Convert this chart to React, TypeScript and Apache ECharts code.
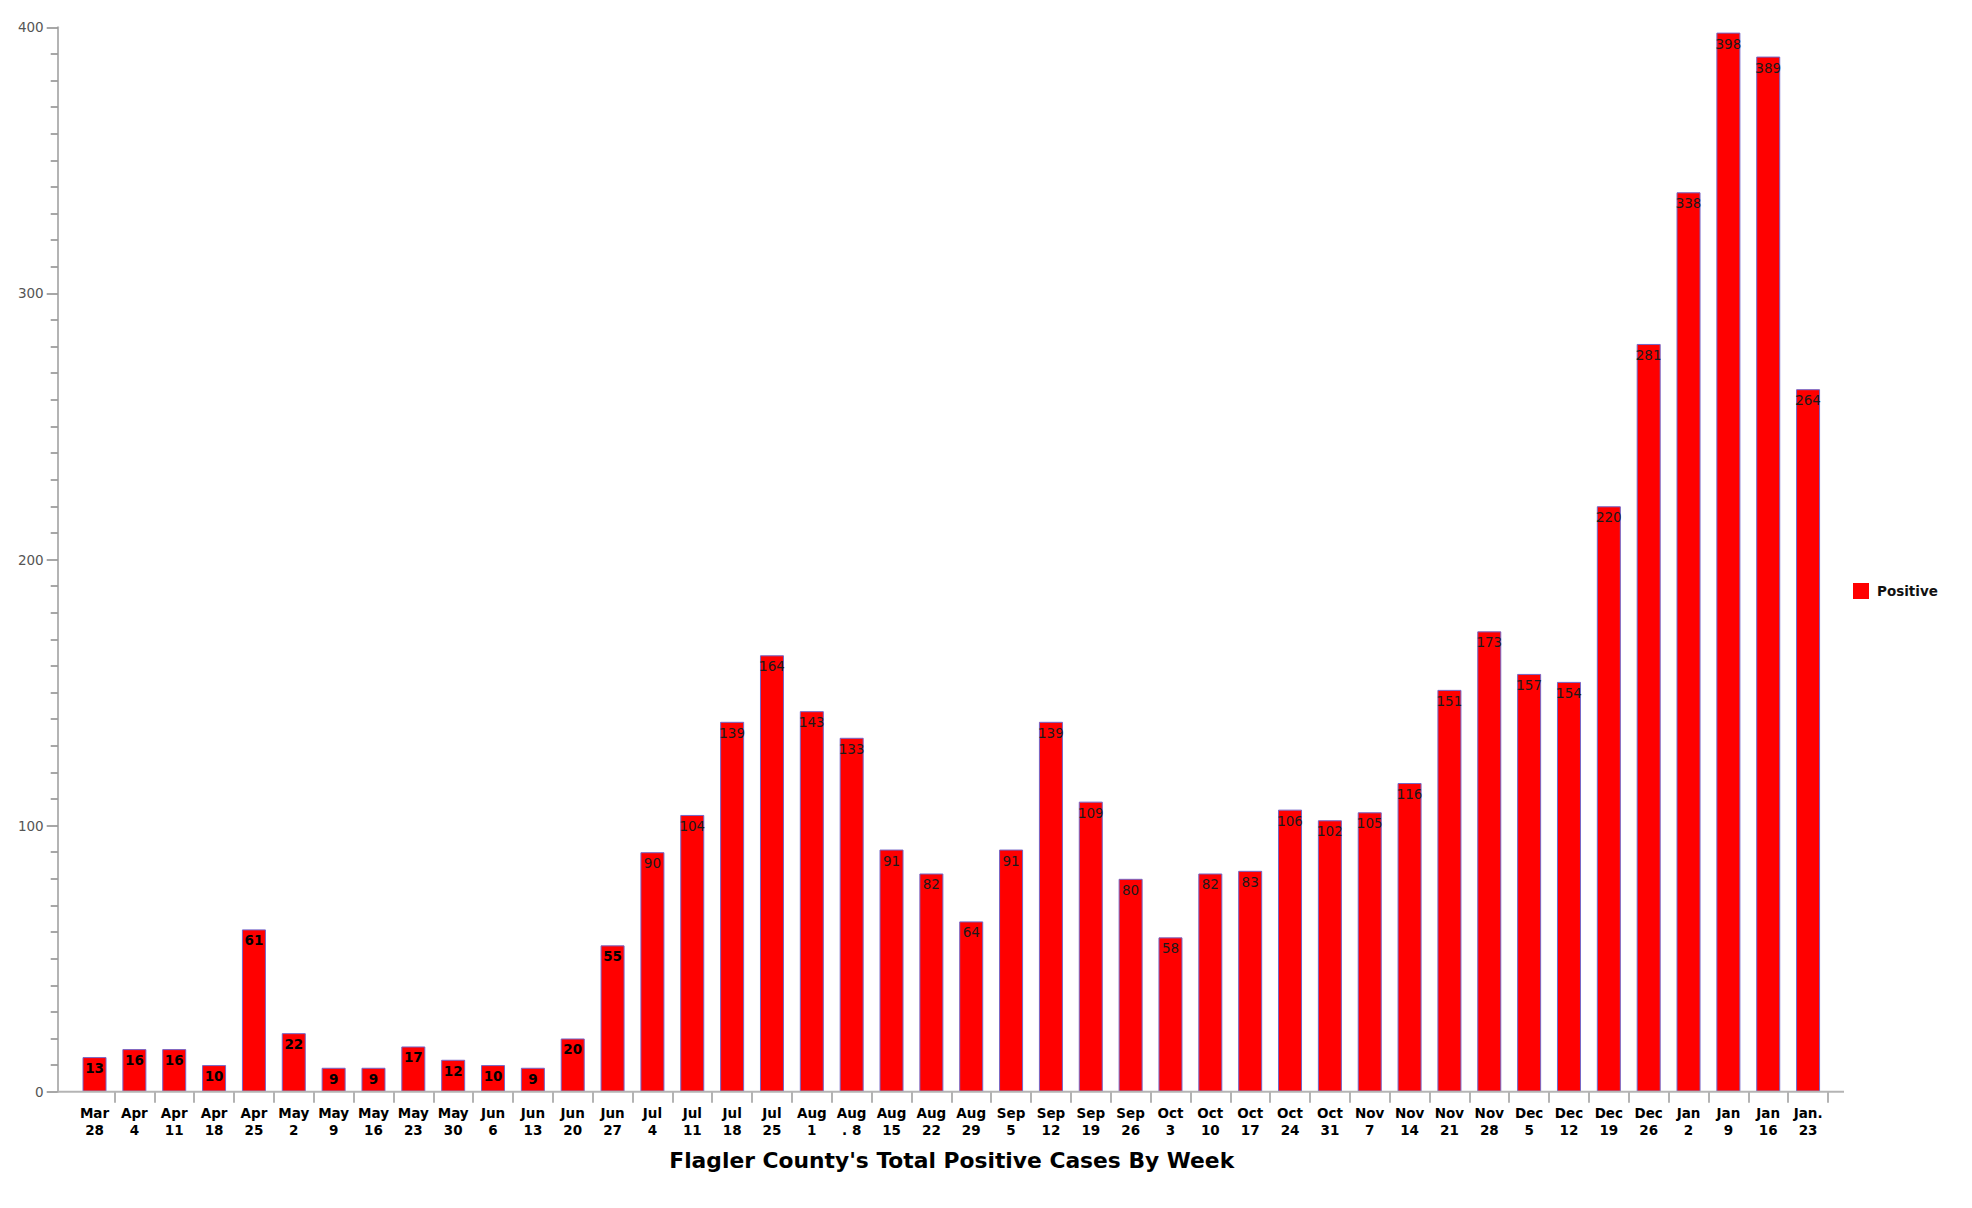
import React, { useEffect, useRef } from "react";
import * as echarts from "echarts";

const categories: string[] = [
  "Mar\n28", "Apr\n4", "Apr\n11", "Apr\n18", "Apr\n25", "May\n2", "May\n9", "May\n16", "May\n23", "May\n30",
  "Jun\n6", "Jun\n13", "Jun\n20", "Jun\n27", "Jul\n4", "Jul\n11", "Jul\n18", "Jul\n25", "Aug\n1", "Aug\n. 8",
  "Aug\n15", "Aug\n22", "Aug\n29", "Sep\n5", "Sep\n12", "Sep\n19", "Sep\n26", "Oct\n3", "Oct\n10", "Oct\n17",
  "Oct\n24", "Oct\n31", "Nov\n7", "Nov\n14", "Nov\n21", "Nov\n28", "Dec\n5", "Dec\n12", "Dec\n19", "Dec\n26",
  "Jan\n2", "Jan\n9", "Jan\n16", "Jan.\n23",
];

const positives: number[] = [
  13, 16, 16, 10, 61, 22, 9, 9, 17, 12,
  10, 9, 20, 55, 90, 104, 139, 164, 143, 133,
  91, 82, 64, 91, 139, 109, 80, 58, 82, 83,
  106, 102, 105, 116, 151, 173, 157, 154, 220, 281,
  338, 398, 389, 264,
];

const seriesName = "Positive";
const chartTitle = "Flagler County's Total Positive Cases By Week";
const yMin = 0;
const yMax = 400;
const yInterval = 100;
// labels of the early weeks are rendered in a heavier face in the original
const boldLabelCount = 14;

const FONT = "'DejaVu Sans', Verdana, sans-serif";

export default function App() {
  const ref = useRef<HTMLDivElement>(null);

  useEffect(() => {
    if (!ref.current) return;
    const chart = echarts.init(ref.current, undefined, { renderer: "svg" });
    const gridLeft = 74.6;
    const gridRight = 144;
    const gridTop = 27.3;
    const gridBottom = 116.3;
    const baseY = 1208 - gridBottom;

    chart.setOption({
      animation: false,
      backgroundColor: "#ffffff",
      textStyle: { fontFamily: FONT },
      grid: { left: gridLeft, right: gridRight, top: gridTop, bottom: gridBottom, containLabel: false },
      legend: {
        data: [seriesName],
        orient: "vertical",
        left: 1853,
        top: 583,
        padding: 0,
        itemWidth: 16,
        itemHeight: 16,
        icon: "rect",
        itemStyle: { borderWidth: 0, color: "#ff0000" },
        textStyle: { fontFamily: FONT, fontSize: 13.5, fontWeight: "bold", color: "#111", padding: [0, 0, 0, 3] },
      },
      xAxis: {
        type: "category",
        data: categories,
        boundaryGap: true,
        axisLine: { show: false },
        axisTick: {
          show: true,
          length: 11,
          interval: (i: number) => i !== 0,
          lineStyle: { color: "#9a9a9a", width: 1.5 },
        },
        axisLabel: {
          interval: 0,
          margin: 13,
          fontFamily: FONT,
          fontSize: 13.5,
          fontWeight: "bold",
          lineHeight: 17,
          color: "#000",
        },
        splitLine: { show: false },
      },
      yAxis: {
        type: "value",
        min: yMin,
        max: yMax,
        interval: yInterval,
        offset: gridLeft - 57.7,
        axisLine: { show: true, lineStyle: { color: "#b4b4b4", width: 2 } },
        axisTick: { show: true, length: 11, lineStyle: { color: "#8a8a8a", width: 1.5 } },
        minorTick: { show: true, splitNumber: 10, length: 7, lineStyle: { color: "#8a8a8a", width: 1.5 } },
        axisLabel: { margin: 14, fontFamily: FONT, fontSize: 13.5, color: "#555" },
        splitLine: { show: false },
      },
      graphic: [
        {
          type: "line",
          z: 10,
          shape: { x1: 57.7, y1: baseY, x2: 1844, y2: baseY },
          style: { stroke: "#b4b4b4", lineWidth: 2 },
        },
        {
          type: "text",
          x: 951.7,
          y: 1160,
          style: {
            text: chartTitle,
            fontFamily: FONT,
            fontSize: 21.8,
            fontWeight: "bold",
            fill: "#000",
            textAlign: "center",
            textVerticalAlign: "middle",
          },
        },
      ],
      series: [
        {
          name: seriesName,
          type: "bar",
          data: positives,
          barWidth: 24,
          itemStyle: { color: "#ff0000", borderColor: "#7466c8", borderWidth: 1 },
          label: {
            show: true,
            position: "insideTop",
            distance: 4,
            fontFamily: FONT,
            fontSize: 13.5,
            color: "#1a1a1a",
            formatter: (p: any) => (p.dataIndex < boldLabelCount ? `{b|${p.value}}` : `${p.value}`),
            rich: {
              b: { fontFamily: FONT, fontSize: 13.5, fontWeight: "bold", color: "#000" },
            },
          },
        },
      ],
    });

    return () => chart.dispose();
  }, []);

  return (
    <div
      ref={ref}
      style={{ position: "absolute", left: 0, top: 0, width: 1972, height: 1208, background: "#fff" }}
    />
  );
}
